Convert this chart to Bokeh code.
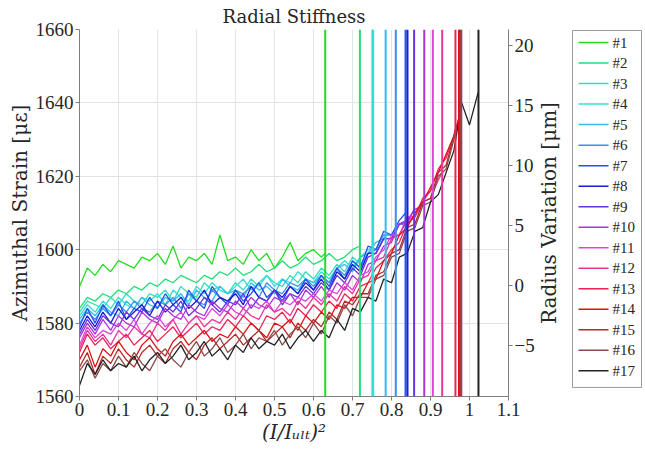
import math
from bokeh.plotting import figure
from bokeh.layouts import row
from bokeh.models import Range1d, LinearAxis, FixedTicker, Span
from bokeh.core.properties import value
from bokeh.embed import file_html
from bokeh.resources import INLINE

# sampling grid of the load parameter (I/I_ult)^2
X = [0.00, 0.02, 0.04, 0.06, 0.08, 0.10, 0.12, 0.14, 0.16, 0.18,
     0.20, 0.22, 0.24, 0.26, 0.28, 0.30, 0.32, 0.34, 0.36, 0.38,
     0.40, 0.42, 0.44, 0.46, 0.48, 0.50, 0.52, 0.54, 0.56, 0.58,
     0.60, 0.62, 0.64, 0.66, 0.68, 0.70, 0.72, 0.74, 0.76, 0.78,
     0.80, 0.82, 0.84, 0.86, 0.88, 0.90, 0.92, 0.94, 0.96, 0.98,
     1.00, 1.02]

NAMES = ["#1", "#2", "#3", "#4", "#5", "#6", "#7", "#8", "#9", "#10",
         "#11", "#12", "#13", "#14", "#15", "#16", "#17"]
END_X = [0.630, 0.719, 0.751, 0.753, 0.785, 0.811, 0.836, 0.841, 0.858, 0.884,
         0.906, 0.930, 0.964, 0.973, 0.976, 0.979, 1.023]
COLORS = ["#22dd22", "#22dd77", "#33ddbb", "#33dddd", "#33bbee", "#3d8fee",
          "#2255ee", "#1a1add", "#6633dd", "#aa33dd", "#dd44dd", "#ee3399",
          "#ee2255", "#dd1111", "#b52a2a", "#8a4a4a", "#222222"]

S1 = [1590, 1595, 1593, 1596, 1594, 1597, 1596, 1595, 1598, 1597,
      1599, 1596, 1601, 1595, 1598, 1597, 1599, 1596, 1604, 1597,
      1598, 1596, 1600, 1597, 1599, 1595, 1598, 1602, 1597, 1599,
      1600, 1598, 1599]
S2 = [1584, 1587, 1586, 1588, 1587, 1589, 1588, 1590, 1589, 1591,
      1590, 1592, 1591, 1593, 1592, 1591, 1593, 1592, 1594, 1593,
      1595, 1593, 1594, 1596, 1594, 1595, 1597, 1595, 1596, 1598,
      1596, 1597, 1599, 1597, 1598, 1600, 1601]
S3 = [1583, 1586, 1585, 1584, 1587, 1585, 1588, 1586, 1585, 1588,
      1587, 1589, 1586, 1590, 1588, 1587, 1591, 1589, 1590, 1588,
      1591, 1589, 1592, 1590, 1593, 1591, 1590, 1593, 1591, 1594,
      1592, 1595, 1593, 1596, 1594, 1598, 1596, 1599, 1601]
S4 = [1582, 1585, 1583, 1586, 1584, 1587, 1585, 1584, 1587, 1586,
      1588, 1585, 1589, 1587, 1586, 1590, 1588, 1591, 1589, 1588,
      1590, 1592, 1589, 1591, 1593, 1590, 1592, 1591, 1594, 1592,
      1591, 1594, 1592, 1595, 1597, 1595, 1598, 1600, 1601]
S5 = [1581, 1584, 1582, 1585, 1583, 1582, 1586, 1584, 1587, 1585,
      1584, 1587, 1586, 1588, 1585, 1589, 1587, 1586, 1590, 1588,
      1589, 1587, 1591, 1589, 1590, 1588, 1592, 1590, 1589, 1592,
      1591, 1593, 1591, 1595, 1596, 1594, 1598, 1599, 1602, 1603,
      1604]
S6 = [1580, 1583, 1581, 1584, 1582, 1585, 1583, 1586, 1584, 1583,
      1586, 1585, 1587, 1584, 1588, 1586, 1585, 1589, 1587, 1586,
      1589, 1588, 1590, 1587, 1591, 1589, 1588, 1591, 1590, 1592,
      1590, 1593, 1591, 1595, 1593, 1597, 1595, 1599, 1600, 1604,
      1604, 1606]
S7 = [1579, 1584, 1580, 1585, 1582, 1586, 1581, 1584, 1583, 1587,
      1584, 1588, 1585, 1583, 1589, 1586, 1584, 1590, 1587, 1585,
      1589, 1586, 1588, 1591, 1587, 1589, 1586, 1590, 1588, 1592,
      1589, 1593, 1590, 1595, 1592, 1597, 1595, 1601, 1600, 1605,
      1604, 1608, 1610]
S8 = [1578, 1582, 1579, 1583, 1580, 1584, 1581, 1583, 1585, 1582,
      1586, 1583, 1585, 1587, 1584, 1586, 1589, 1585, 1587, 1586,
      1588, 1585, 1590, 1587, 1586, 1589, 1587, 1590, 1588, 1591,
      1589, 1592, 1589, 1594, 1592, 1596, 1594, 1599, 1599, 1603,
      1603, 1607, 1608, 1609]
S9 = [1577, 1581, 1578, 1582, 1580, 1579, 1583, 1581, 1584, 1582,
      1581, 1585, 1583, 1586, 1582, 1584, 1587, 1585, 1583, 1586,
      1585, 1588, 1584, 1587, 1586, 1589, 1585, 1588, 1587, 1590,
      1588, 1591, 1589, 1593, 1591, 1595, 1593, 1598, 1599, 1603,
      1603, 1607, 1607, 1611]
S10 = [1576, 1580, 1577, 1581, 1578, 1582, 1580, 1579, 1583, 1581,
       1580, 1584, 1582, 1581, 1585, 1583, 1582, 1586, 1584, 1583,
       1586, 1584, 1587, 1585, 1584, 1587, 1586, 1588, 1585, 1589,
       1587, 1590, 1587, 1591, 1589, 1593, 1591, 1596, 1597, 1601,
       1602, 1607, 1608, 1611, 1612, 1614]
S11 = [1574, 1579, 1576, 1578, 1577, 1580, 1578, 1581, 1577, 1580,
       1582, 1579, 1581, 1583, 1580, 1582, 1581, 1584, 1582, 1585,
       1583, 1582, 1585, 1584, 1586, 1583, 1586, 1585, 1587, 1586,
       1588, 1586, 1589, 1588, 1591, 1589, 1593, 1594, 1598, 1600,
       1604, 1604, 1609, 1609, 1613, 1616, 1617]
S12 = [1573, 1578, 1575, 1577, 1574, 1578, 1576, 1579, 1577, 1576,
       1580, 1578, 1581, 1577, 1580, 1582, 1579, 1581, 1580, 1583,
       1581, 1584, 1582, 1581, 1585, 1583, 1584, 1582, 1586, 1584,
       1587, 1585, 1588, 1586, 1590, 1588, 1592, 1593, 1597, 1598,
       1603, 1604, 1608, 1609, 1613, 1614, 1619, 1621]
S13 = [1572, 1577, 1574, 1576, 1573, 1575, 1577, 1574, 1576, 1578,
       1575, 1577, 1579, 1576, 1578, 1580, 1577, 1579, 1578, 1581,
       1579, 1582, 1580, 1578, 1582, 1581, 1583, 1580, 1584, 1582,
       1585, 1583, 1586, 1584, 1588, 1586, 1590, 1591, 1595, 1597,
       1600, 1602, 1607, 1609, 1614, 1616, 1622, 1625, 1631, 1633]
S14 = [1570, 1574, 1568, 1573, 1571, 1575, 1572, 1570, 1574, 1576,
       1573, 1571, 1575, 1577, 1574, 1576, 1578, 1575, 1577, 1576,
       1579, 1577, 1580, 1578, 1576, 1580, 1579, 1581, 1578, 1582,
       1580, 1583, 1581, 1585, 1584, 1587, 1587, 1591, 1592, 1597,
       1599, 1604, 1606, 1610, 1613, 1617, 1621, 1626, 1631, 1636]
S15 = [1568, 1572, 1566, 1571, 1569, 1573, 1570, 1568, 1572, 1574,
       1571, 1569, 1573, 1575, 1572, 1570, 1574, 1576, 1573, 1575,
       1577, 1574, 1576, 1578, 1575, 1577, 1579, 1576, 1580, 1578,
       1581, 1579, 1583, 1581, 1586, 1585, 1588, 1588, 1593, 1594,
       1599, 1600, 1606, 1607, 1613, 1614, 1621, 1623, 1631, 1637]
S16 = [1567, 1570, 1565, 1569, 1567, 1571, 1568, 1572, 1569, 1567,
       1571, 1573, 1570, 1568, 1572, 1575, 1571, 1573, 1576, 1572,
       1574, 1577, 1573, 1576, 1575, 1578, 1574, 1577, 1579, 1576,
       1580, 1577, 1582, 1580, 1585, 1582, 1587, 1587, 1592, 1593,
       1598, 1599, 1605, 1606, 1612, 1613, 1620, 1622, 1630, 1638]
S17 = [1563, 1569, 1566, 1570, 1567, 1569, 1568, 1571, 1567, 1570,
       1572, 1569, 1571, 1574, 1570, 1572, 1575, 1571, 1573, 1570,
       1574, 1572, 1576, 1573, 1575, 1574, 1577, 1573, 1576, 1578,
       1575, 1578, 1576, 1581, 1578, 1584, 1583, 1587, 1586, 1592,
       1591, 1598, 1599, 1605, 1606, 1613, 1615, 1621, 1627, 1640,
       1634, 1642, 1643]
SERIES = [S1, S2, S3, S4, S5, S6, S7, S8, S9, S10, S11, S12, S13, S14, S15, S16, S17]

XTICKS = [0, 0.1, 0.2, 0.3, 0.4, 0.5, 0.6, 0.7, 0.8, 0.9, 1, 1.1]
XTICK_LABELS = ["0", "0.1", "0.2", "0.3", "0.4", "0.5", "0.6", "0.7", "0.8", "0.9", "1", "1.1"]
YTICKS = [1560, 1580, 1600, 1620, 1640, 1660]
RTICKS = [-5, 0, 5, 10, 15, 20]
RIGHT_LABEL = "Radius Variation [μm]"

SERIF = "Liberation Serif"
SERIF2 = "DejaVu Serif"
TXT = "#262626"
AX = "#7f7f7f"
H = 446

p = figure(width=537, height=H,
           x_range=Range1d(0, 1.1), y_range=Range1d(1560, 1660),
           output_backend="svg", toolbar_location=None,
           min_border_left=79, min_border_top=29, min_border_bottom=46,
           min_border_right=28, title="Radial Stiffness")
p.extra_y_ranges = {"radius": Range1d(-9.25, 21.33)}

p.title.align = "center"
p.title.text_font = SERIF2
p.title.text_font_size = "18px"
p.title.text_font_style = "normal"
p.title.text_color = TXT
p.title.standoff = 6
p.outline_line_color = None

p.xaxis.ticker = FixedTicker(ticks=XTICKS)
p.xaxis.major_label_overrides = {t: l for t, l in zip(XTICKS, XTICK_LABELS)}
p.xaxis.axis_label = "(I/Iᵤₗₜ)²"
p.yaxis.ticker = FixedTicker(ticks=YTICKS)
p.yaxis.axis_label = "Azimuthal Strain [με]"

rax = LinearAxis(y_range_name="radius", ticker=FixedTicker(ticks=RTICKS))
p.add_layout(rax, "right")

for ax in [p.xaxis[0], p.yaxis[0], rax]:
    ax.major_label_text_font = SERIF
    ax.major_label_text_font_size = "19px"
    ax.major_label_text_color = TXT
    ax.axis_label_text_font = SERIF2
    ax.axis_label_text_font_size = "20px"
    ax.axis_label_text_font_style = "normal"
    ax.axis_label_text_color = TXT
    ax.axis_line_color = AX
    ax.major_tick_line_color = AX
    ax.major_tick_out = 4
    ax.major_tick_in = 0
    ax.minor_tick_line_color = None
    ax.major_label_standoff = 2
    ax.axis_label_standoff = 1
p.xaxis.axis_label_text_font_style = "italic"

p.xgrid.grid_line_color = "#e3e3e3"
p.ygrid.grid_line_color = "#e3e3e3"

for name, color, vals, xe in zip(NAMES, COLORS, SERIES, END_X):
    xs = [x for x in X if x < xe] + [xe]
    assert len(xs) == len(vals), (name, len(xs), len(vals))
    p.line(xs, vals, line_color=color, line_width=1.3)

for color, xe in zip(COLORS, END_X):
    p.add_layout(Span(location=xe, dimension="height", line_color=color, line_width=2))

# side panel: right-axis title (reading upwards) and the legend.
# Its frame is aligned with the chart's frame; one legend row = 20.4 px.
LW = 105
F = 365            # frame height in px
row_px = 20.4
top_rows = -13 / row_px
pl = figure(width=LW, height=H, output_backend="svg", toolbar_location=None,
            x_axis_type=None, y_axis_type=None, min_border=0,
            x_range=Range1d(0, LW), y_range=Range1d(top_rows + F / row_px, top_rows))
pl.outline_line_color = None
pl.xgrid.visible = False
pl.ygrid.visible = False
pl.text(x=[11], y=[top_rows + (F / 2) / row_px], text=[RIGHT_LABEL], angle=math.pi / 2,
        text_align="center", text_baseline="middle",
        text_font=value(SERIF2), text_font_size="20px", text_color=TXT)
rows = list(range(len(NAMES)))
pl.quad(left=35, right=LW - 1, top=top_rows + 1 / row_px, bottom=top_rows + 356 / row_px,
        fill_color="white", line_color="#9a9a9a", line_width=1)
pl.segment(x0=[41] * len(rows), x1=[71] * len(rows), y0=rows, y1=rows,
           line_color=COLORS, line_width=1.5)
pl.text(x=[75] * len(rows), y=rows, text=NAMES, text_baseline="middle",
        text_font=value(SERIF), text_font_size="15px", text_color=TXT)

layout = row(p, pl, spacing=0)
open("out.html", "w").write(file_html(layout, INLINE))
